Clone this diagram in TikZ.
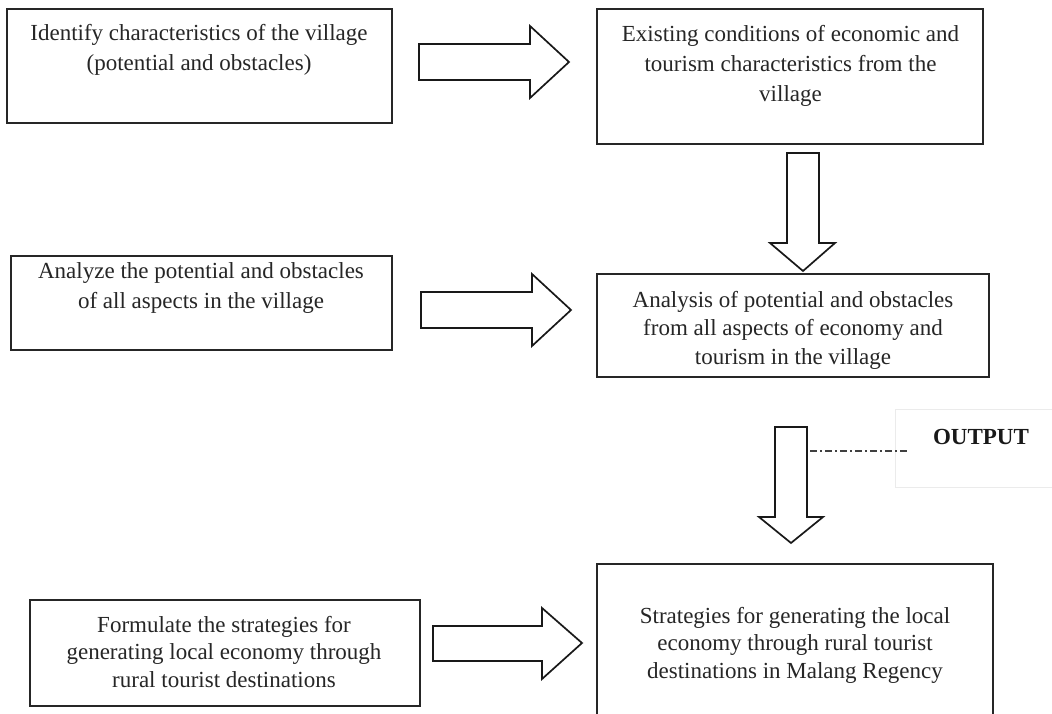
\documentclass[tikz,border=0pt]{standalone}
\usepackage{fontspec}
\setmainfont{Liberation Serif}
\begin{document}
\begin{tikzpicture}[x=1pt,y=-1pt,
  box/.style={draw=black!85, line width=1.7pt, fill=white, inner sep=0pt},
  label/.style={inner sep=0pt, align=center, anchor=north, text=black!85,
    font=\fontsize{23}{30}\selectfont},
  tight/.style={font=\fontsize{23}{28.5}\selectfont},
  tighter/.style={font=\fontsize{23}{27.5}\selectfont},
  barrow/.style={draw=black!90, line width=1.7pt, fill=white, line join=miter},
  outbox/.style={draw=black!8, line width=1pt, fill=white},
  leader/.style={draw=black!75, line width=1.2pt, dash pattern=on 7pt off 3pt on 2pt off 3pt}]
\clip (0,0) rectangle (1052,714);
\fill[white] (0,0) rectangle (1052,714);

% process steps (left column)
\node[box, minimum width=385pt, minimum height=114pt] (s1) at (199.5,66) {};
\node[box, minimum width=381pt, minimum height=94pt]  (s2) at (201.5,303) {};
\node[box, minimum width=390pt, minimum height=106pt] (s3) at (225,653) {};

% results (right column)
\node[box, minimum width=386pt, minimum height=135pt] (r1) at (790,76.5) {};
\node[box, minimum width=392pt, minimum height=103pt] (r2) at (793,325.5) {};
\node[box, minimum width=396pt, minimum height=166pt] (r3) at (795,647) {};

% output marker
\node[outbox, minimum width=170pt, minimum height=78pt] (out) at (980,448) {};
\node[inner sep=0pt, font=\fontsize{23}{28}\selectfont\bfseries, text=black!90] (outtxt) at (981,437) {OUTPUT};
\coordinate (ldA) at (810,451);
\coordinate (ldB) at (907,451);
\draw[leader] (ldA) -- (ldB);

% texts
\node[label] (t1) at (199,24) {Identify characteristics of the village\\(potential and obstacles)};
\node[label] (t2) at (790.5,25) {Existing conditions of economic and\\tourism characteristics from the\\village};
\node[label] (t4) at (201,262) {Analyze the potential and obstacles\\of all aspects in the village};
\node[label, tight] (t5) at (793,291) {Analysis of potential and obstacles\\from all aspects of economy and\\tourism in the village};
\node[label, tighter] (t6) at (224,616) {Formulate the strategies for\\generating local economy through\\rural tourist destinations};
\node[label, tighter] (t7) at (795,607) {Strategies for generating the local\\economy through rural tourist\\destinations in Malang Regency};

% block arrows
\draw[barrow] (419,44) -- (530,44) -- (530,26) -- (569,62) -- (530,98) -- (530,80) -- (419,80) -- cycle;
\draw[barrow] (421,292) -- (532,292) -- (532,274) -- (571,310) -- (532,346) -- (532,328) -- (421,328) -- cycle;
\draw[barrow] (433,626) -- (542,626) -- (542,608) -- (582,643) -- (542,679) -- (542,661) -- (433,661) -- cycle;
\draw[barrow] (787,153) -- (819,153) -- (819,243) -- (835,243) -- (803,271) -- (770,243) -- (787,243) -- cycle;
\draw[barrow] (775,427) -- (807,427) -- (807,517) -- (823,517) -- (791,543) -- (759,517) -- (775,517) -- cycle;
\end{tikzpicture}
\end{document}
